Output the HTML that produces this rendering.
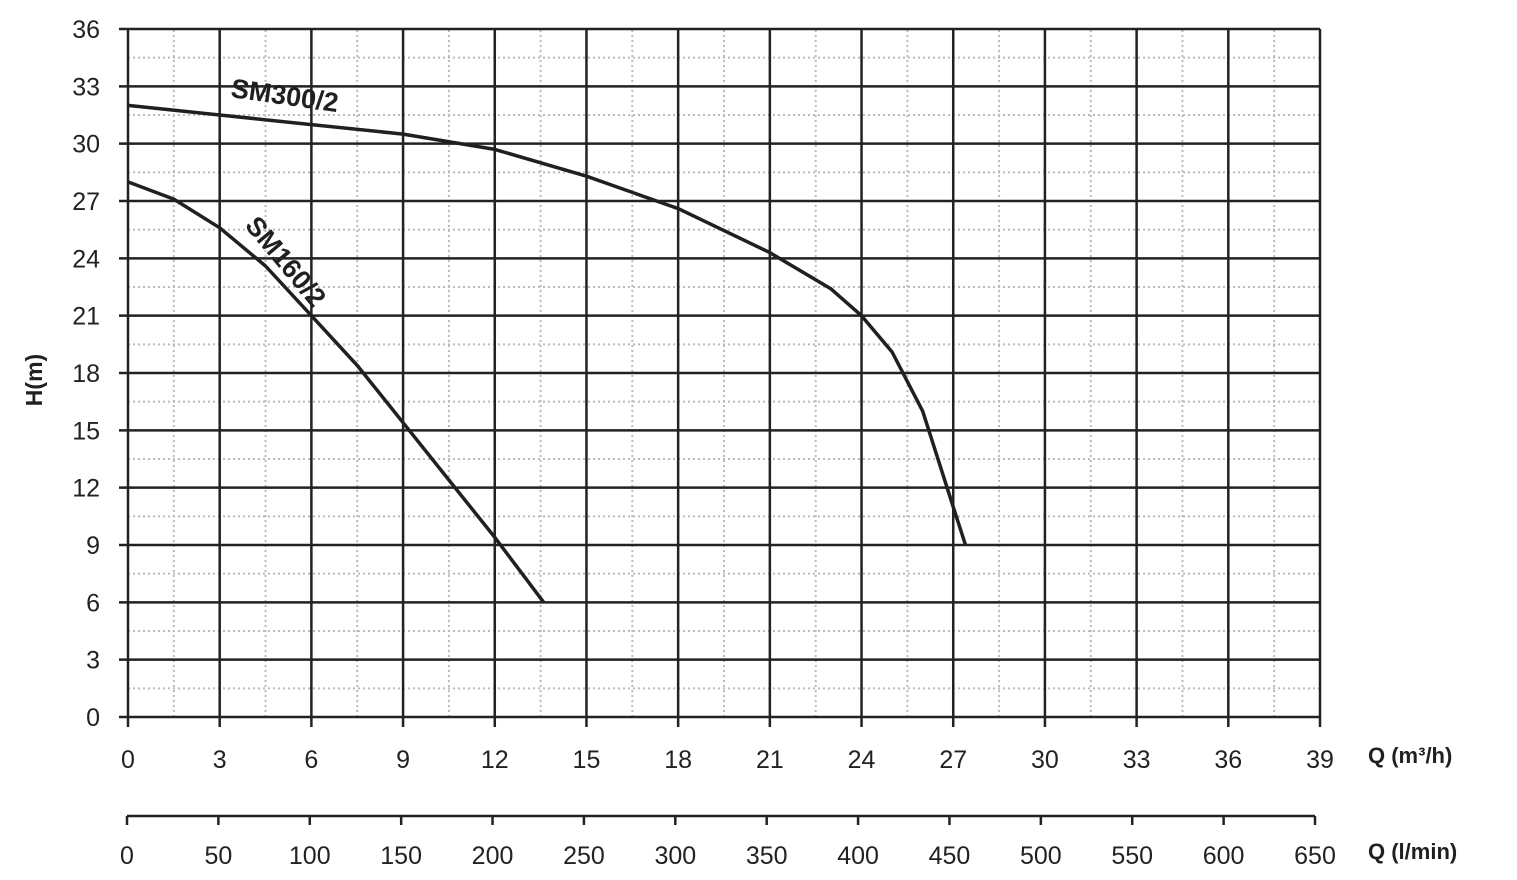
<!DOCTYPE html>
<html><head><meta charset="utf-8"><style>
html,body{margin:0;padding:0;background:#fff}
svg{display:block;font-family:"Liberation Sans",sans-serif}
</style></head><body>
<svg id="chart" width="1517" height="880" viewBox="0 0 1517 880" xmlns="http://www.w3.org/2000/svg"></svg>
<script>
const xTicks=[0,3,6,9,12,15,18,21,24,27,30,33,36,39];
const yTicks=[0,3,6,9,12,15,18,21,24,27,30,33,36];
const lminTicks=[0,50,100,150,200,250,300,350,400,450,500,550,600,650];
const sm300Q=[0,3,6,9,12,15,18,21,23,24,25,26,27,27.4];
const sm300H=[32,31.5,31,30.5,29.7,28.3,26.6,24.3,22.4,21,19.1,16,11,9];
const sm160Q=[0,1.5,3,4.5,6,7.5,9,10.5,12,13.6];
const sm160H=[28,27.1,25.6,23.6,21,18.4,15.4,12.4,9.4,6];
const NS="http://www.w3.org/2000/svg";
const svg=document.getElementById('chart');
const X=q=>128+q*(1320-128)/39;
const Y=h=>717-h*(717-29)/36;
const L=v=>127+v*(1315-127)/650;
function el(t,a,p){const e=document.createElementNS(NS,t);for(const k in a)e.setAttribute(k,a[k]);(p||svg).appendChild(e);return e;}
// minor grid
for(let q=1.5;q<39;q+=3){const e=el('line',{x1:X(q),x2:X(q),y1:Y(0),y2:Y(36),stroke:'#bbb','stroke-width':2,'stroke-dasharray':'2 3'});
}
for(let h=1.5;h<36;h+=3){const e=el('line',{x1:X(0),x2:X(39),y1:Y(h),y2:Y(h),stroke:'#bbb','stroke-width':2,'stroke-dasharray':'2 3'});
}
// major grid + labels
xTicks.forEach(q=>{const e=el('line',{x1:X(q),x2:X(q),y1:Y(36),y2:Y(0)+10,stroke:'#222','stroke-width':2.5});

const t=el('text',{x:X(q),y:768,'text-anchor':'middle','font-size':25,fill:'#222'});t.textContent=q;
});
yTicks.forEach(h=>{const e=el('line',{x1:X(0)-9,x2:X(39),y1:Y(h),y2:Y(h),stroke:'#222','stroke-width':2.5});

const t=el('text',{x:100,y:Y(h)+9,'text-anchor':'end','font-size':25,fill:'#222'});t.textContent=h;
});
// secondary axis
const ax=el('line',{x1:L(0),x2:L(650),y1:816,y2:816,stroke:'#222','stroke-width':2.5});

lminTicks.forEach(v=>{const e=el('line',{x1:L(v),x2:L(v),y1:816,y2:825,stroke:'#222','stroke-width':2.5});

const t=el('text',{x:L(v),y:864,'text-anchor':'middle','font-size':25,fill:'#222'});t.textContent=v;
});
// curves
function curve(qs,hs,name){let d='';qs.forEach((q,i)=>{d+=(i?'L':'M')+X(q).toFixed(1)+','+Y(hs[i]).toFixed(1);});
const p=el('path',{d:d,fill:'none',stroke:'#231f20','stroke-width':3.5,'stroke-linejoin':'round'});
}
curve(sm300Q,sm300H,'sm300-curve');
curve(sm160Q,sm160H,'sm160-curve');
</script>
<svg style="position:absolute;left:0;top:0" width="1517" height="880">
<text x="0" y="0" transform="translate(230,97) rotate(8)" font-family="Liberation Sans,sans-serif" font-weight="bold" font-size="27" fill="#231f20">SM300/2</text>
<text x="0" y="0" transform="translate(244,226) rotate(50)" font-family="Liberation Sans,sans-serif" font-weight="bold" font-size="27" fill="#231f20">SM160/2</text>
<text transform="translate(42,380) rotate(-90)" text-anchor="middle" font-family="Liberation Sans,sans-serif" font-weight="bold" font-size="23" fill="#231f20">H(m)</text>
<text x="1368" y="763" font-family="Liberation Sans,sans-serif" font-weight="bold" font-size="22" fill="#231f20">Q (m³/h)</text>
<text x="1368" y="859" font-family="Liberation Sans,sans-serif" font-weight="bold" font-size="22" fill="#231f20">Q (l/min)</text>
</svg>
</body></html>
